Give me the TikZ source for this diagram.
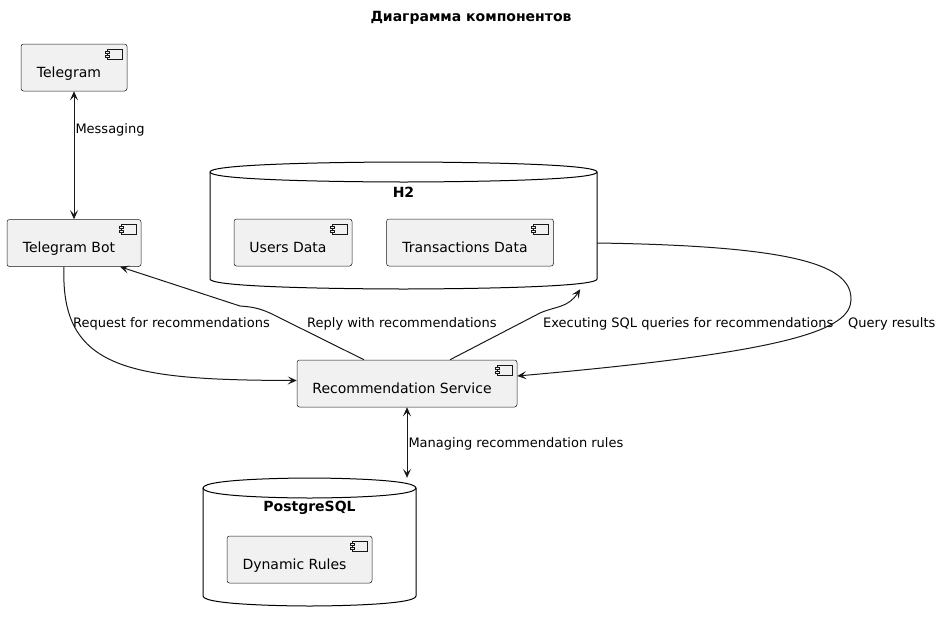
\documentclass[tikz,border=0pt]{standalone}
\usepackage{fontspec}
\setmainfont{DejaVu Sans}
\usepackage{xcolor}
\usetikzlibrary{positioning,arrows.meta,fit}

\definecolor{compfill}{HTML}{F1F1F1}
\definecolor{inkline}{HTML}{181818}

% database drawn as a cylinder: name, x0, y0, x1, y1
\newcommand{\dbcyl}[5]{%
  \draw[dbline] (#2,#3+10) .. controls (#2,#3) and ({(#2+#4)/2},#3) .. ({(#2+#4)/2},#3)
    .. controls ({(#2+#4)/2},#3) and (#4,#3) .. (#4,#3+10) -- (#4,#5-10)
    .. controls (#4,#5) and ({(#2+#4)/2},#5) .. ({(#2+#4)/2},#5)
    .. controls ({(#2+#4)/2},#5) and (#2,#5) .. (#2,#5-10) -- cycle;
  \draw[dbline] (#2,#3+10) .. controls (#2,#3+20) and ({(#2+#4)/2},#3+20) .. ({(#2+#4)/2},#3+20)
    .. controls ({(#2+#4)/2},#3+20) and (#4,#3+20) .. (#4,#3+10);
  \node[fit={(#2,#3) (#4,#5)},inner sep=0pt] (#1) {};
}

\begin{document}
\begin{tikzpicture}[
    x=1pt,y=-1pt,
    >={Stealth[length=9pt,width=8pt,inset=4pt]},
    comp/.style={draw=inkline,fill=compfill,line width=0.5pt,rounded corners=2.5pt,
      minimum height=47pt,inner sep=0pt,text height=19pt,text depth=0pt,
      font=\fontsize{14pt}{16pt}\selectfont,execute at end node={\hspace*{10pt}},
      path picture={
        \draw[inkline,fill=compfill,line width=0.5pt,sharp corners]
          ([xshift=-20pt,yshift=-5pt]path picture bounding box.north east) rectangle ++(15,10);
        \draw[inkline,fill=compfill,line width=0.5pt,sharp corners]
          ([xshift=-22pt,yshift=-7pt]path picture bounding box.north east) rectangle ++(4,2);
        \draw[inkline,fill=compfill,line width=0.5pt,sharp corners]
          ([xshift=-22pt,yshift=-11pt]path picture bounding box.north east) rectangle ++(4,2);
      }},
    dbline/.style={draw=black,line width=1pt},
    dbtitle/.style={font=\fontsize{14pt}{16pt}\selectfont\bfseries},
    lbl/.style={font=\fontsize{13pt}{15pt}\selectfont,inner sep=1pt,text height=10pt,text depth=3pt},
    every edge/.style={draw=inkline,line width=1pt}
]
    \useasboundingbox (0,0) rectangle (942,622);

    % Title
    \node[dbtitle] (title) at (471,18) {Диаграмма компонентов};

    % Databases
    \dbcyl{h2}{210}{162}{597}{289}
    \node[dbtitle] (h2title) at (403.5,192) {H2};
    \dbcyl{pg}{203}{478}{416}{606}
    \node[dbtitle] (pgtitle) at (309.5,508) {PostgreSQL};

    % Components
    \node[comp,minimum width=106pt] (tg) at (74,67.5) {Telegram};
    \node[comp,minimum width=134pt] (bot) [below=128pt of tg] {Telegram Bot};
    \node[comp,minimum width=118pt] (users) at (293,242.5) {Users Data};
    \node[comp,minimum width=167pt] (trans) [right=34pt of users] {Transactions Data};
    \node[comp,minimum width=220pt] (rec) at (407,383.5) {Recommendation Service};
    \node[comp,minimum width=145pt] (rules) at (299.5,559.5) {Dynamic Rules};

    % Connections
    \path (tg) edge[<->] node[lbl,anchor=west,pos=0.3] {Messaging} (bot);
    \path (rec) edge[<->] node[lbl,anchor=west,pos=0.52] {Managing recommendation rules} (rec.south |- pg.north);
    \draw[->,inkline,line width=1pt] ([xshift=-10pt]bot.south)
        .. controls (60,370) and (130,380) .. ([yshift=3pt]rec.west);
    \draw[->,inkline,line width=1pt] ([xshift=-43pt]rec.north) -- (280,318)
        .. controls (263,309) and (255,307) .. (240,306) -- ([xshift=46pt]bot.south);
    \draw[->,inkline,line width=1pt] ([xshift=43pt]rec.north) -- (540,313)
        .. controls (556,306) and (568,308) .. ([xshift=-17pt]h2.south east);
    \draw[->,inkline,line width=1pt] ([yshift=-17.5pt]h2.east)
        .. controls (800,246) and (852,266) .. (851,300)
        .. controls (850,330) and (790,352) .. ([yshift=7.5pt]rec.east);

    % Connection labels
    \node[lbl,anchor=west] (reqlbl) at (72,324) {Request for recommendations};
    \node[lbl,anchor=west] (replbl) at (306,324) {Reply with recommendations};
    \node[lbl,anchor=west] (sqllbl) at (542,324) {Executing SQL queries for recommendations};
    \node[lbl,anchor=west] (reslbl) at (847,324) {Query results};
\end{tikzpicture}
\end{document}
